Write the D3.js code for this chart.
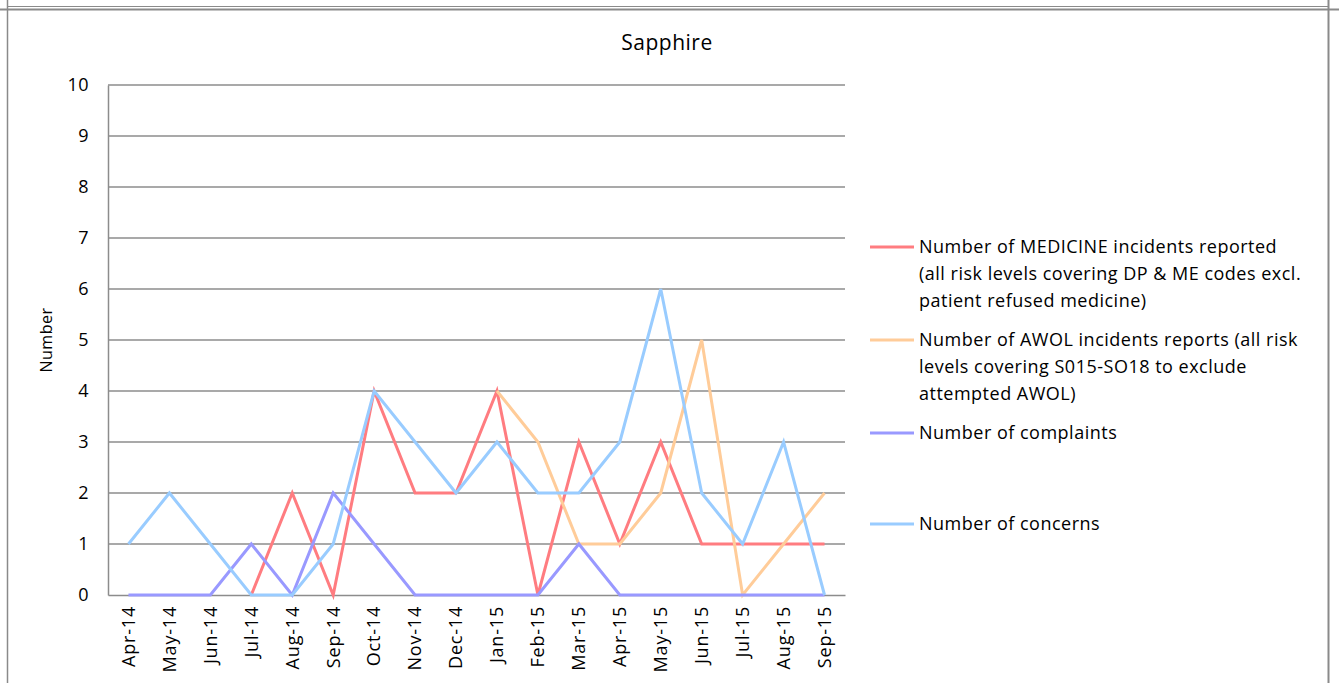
<!DOCTYPE html>
<html>
<head>
<meta charset="utf-8">
<script src="https://cdn.jsdelivr.net/npm/d3@7"></script>
<style>
  html, body { margin: 0; padding: 0; background: #fff; }
  svg { display: block; }
  text { font-family: "Open Sans", Lato, sans-serif; fill: #000; }
</style>
</head>
<body>
<svg id="chart" width="1339" height="683"></svg>
<script>
// Months on the category axis
const months = ["Apr-14","May-14","Jun-14","Jul-14","Aug-14","Sep-14","Oct-14","Nov-14","Dec-14",
                "Jan-15","Feb-15","Mar-15","Apr-15","May-15","Jun-15","Jul-15","Aug-15","Sep-15"];

// Series values per month (null = not recorded)
const medicine   = [null,null,null,0,2,0,4,2,2,4,0,3,1,3,1,1,1,1];
const awol       = [null,null,null,null,null,null,null,null,null,4,3,1,1,2,5,0,1,2];
const complaints = [0,0,0,1,0,2,1,0,0,0,0,1,0,0,0,0,0,0];
const concerns   = [1,2,1,0,0,1,4,3,2,3,2,2,3,6,2,1,3,0];

const yTicks = [0,1,2,3,4,5,6,7,8,9,10];

const legendLabels = [
  ["Number of MEDICINE incidents reported", "(all risk levels covering DP & ME codes excl.", "patient refused medicine)"],
  ["Number of AWOL incidents reports (all risk", "levels covering S015-SO18 to exclude", "attempted AWOL)"],
  ["Number of complaints"],
  ["Number of concerns"]
];

const series = [
  { values: medicine,   color: "#FF7C80" },
  { values: awol,       color: "#FFCC99" },
  { values: complaints, color: "#9999FF" },
  { values: concerns,   color: "#99CCFF" }
];

const FONT = "'Open Sans', Lato, sans-serif";
const svg = d3.select("#chart");

// Worksheet-style frame around the chart
const frame = svg.append("g").attr("stroke", "#8a8a8a").attr("fill", "none");
frame.append("line").attr("x1", 7).attr("x2", 1328).attr("y1", 6.5).attr("y2", 6.5).attr("stroke-width", 1.2);
frame.append("line").attr("x1", 0).attr("x2", 1339).attr("y1", 9.5).attr("y2", 9.5).attr("stroke-width", 2);
frame.append("line").attr("x1", 7.5).attr("x2", 7.5).attr("y1", 0).attr("y2", 683).attr("stroke-width", 1.5);
frame.append("line").attr("x1", 1328.5).attr("x2", 1328.5).attr("y1", 0).attr("y2", 683).attr("stroke-width", 2);

const plot = { left: 108, right: 845, top: 85, bottom: 595 };

const x = d3.scaleBand().domain(months).range([plot.left, plot.right]).padding(0);
const y = d3.scaleLinear().domain([0, 10]).range([plot.bottom, plot.top]);
const cx = m => x(m) + x.bandwidth() / 2;

// Title
svg.append("text")
  .attr("x", 667).attr("y", 50)
  .attr("text-anchor", "middle")
  .style("font-size", "21px")
  .style("letter-spacing", "0.5px")
  .text("Sapphire");

// Horizontal gridlines
svg.append("g")
  .selectAll("line")
  .data(yTicks.filter(t => t > 0))
  .join("line")
  .attr("x1", plot.left).attr("x2", plot.right)
  .attr("y1", d => y(d)).attr("y2", d => y(d))
  .attr("stroke", "#8c8c8c").attr("stroke-width", 1.5);

// Y axis
const yAxis = svg.append("g")
  .attr("transform", `translate(${plot.left},0)`)
  .call(d3.axisLeft(y).tickValues(yTicks).tickSize(0).tickPadding(19).tickFormat(d3.format("d")));
yAxis.select(".domain").attr("stroke", "#8c8c8c").attr("stroke-width", 1.5);
yAxis.selectAll("text").style("font-size", "18px").style("font-family", FONT).style("letter-spacing", "0.5px");

// X axis
const xAxis = svg.append("g")
  .attr("transform", `translate(0,${plot.bottom})`)
  .call(d3.axisBottom(x).tickSize(0).tickSizeOuter(0));
xAxis.select(".domain").attr("stroke", "#8c8c8c").attr("stroke-width", 1.5);
xAxis.selectAll("text")
  .style("font-size", "18px")
  .style("font-family", FONT)
  .style("letter-spacing", "0.8px")
  .attr("text-anchor", "end")
  .attr("transform", "rotate(-90)")
  .attr("x", -11)
  .attr("y", 0)
  .attr("dy", "0.35em");

// Y axis title
svg.append("text")
  .attr("transform", `translate(52,${(plot.top + plot.bottom) / 2}) rotate(-90)`)
  .attr("text-anchor", "middle")
  .style("font-size", "16px")
  .style("letter-spacing", "0.5px")
  .text("Number");

// Series lines
const line = d3.line()
  .defined(d => d.v !== null)
  .x(d => cx(d.m))
  .y(d => y(d.v));

svg.append("g")
  .selectAll("path")
  .data(series)
  .join("path")
  .attr("d", s => line(months.map((m, i) => ({ m, v: s.values[i] }))))
  .attr("fill", "none")
  .attr("stroke", s => s.color)
  .attr("stroke-width", 3)
  .attr("stroke-linejoin", "miter");

// Legend
const legendY = [247, 340, 433, 524];
const lg = svg.append("g");
series.forEach((s, i) => {
  const g = lg.append("g").attr("transform", `translate(870,${legendY[i]})`);
  g.append("line").attr("x1", 0).attr("x2", 44).attr("y1", 0).attr("y2", 0)
    .attr("stroke", s.color).attr("stroke-width", 3);
  legendLabels[i].forEach((t, j) => {
    g.append("text")
      .attr("x", 49).attr("y", j * 27)
      .attr("dy", "0.35em")
      .style("font-size", "18px")
      .style("letter-spacing", "0.5px")
      .text(t);
  });
});
</script>
</body>
</html>
